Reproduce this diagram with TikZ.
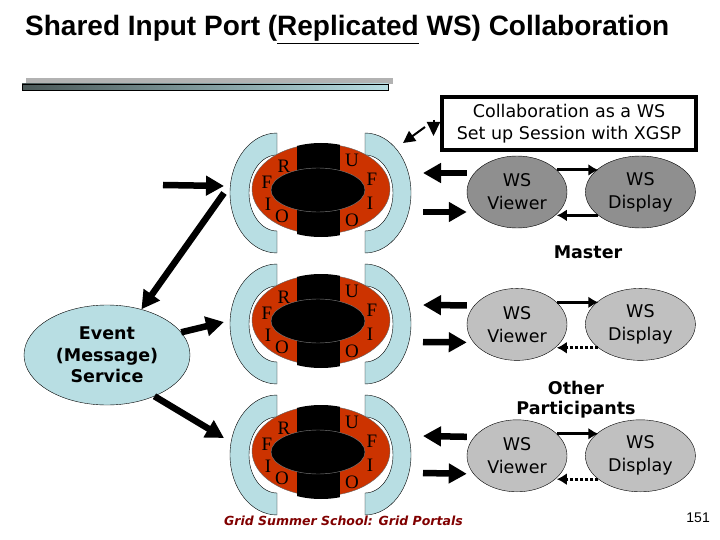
\documentclass[tikz,border=0pt]{standalone}
\usepackage{fontspec}
\setmainfont{DejaVu Sans}
\newfontfamily\titlefont{Liberation Sans}
\newfontfamily\ringfont{Liberation Serif}
\usepackage{tikz}
\usetikzlibrary{positioning, arrows.meta, calc, shapes.geometric}
\usepackage{xcolor}
\definecolor{portblue}{RGB}{184,222,227}
\definecolor{portred}{RGB}{204,51,0}
\definecolor{mastergray}{RGB}{143,143,143}
\definecolor{othergray}{RGB}{192,192,192}
\definecolor{footred}{RGB}{128,0,0}
\definecolor{barslate}{RGB}{74,88,88}

\begin{document}
\begin{tikzpicture}[x=1pt, y=-1pt, node distance=60pt,
	every node/.style={inner sep=0pt},
	wsnode/.style={ellipse, draw, thin, minimum height=72pt, align=center, font=\fontsize{17.5}{23}\selectfont},
	viewer/.style={wsnode, minimum width=100pt},
	display/.style={wsnode, minimum width=110pt},
	fat/.style={line width=6.5pt, -{Triangle[length=18pt,width=19pt]}},
	link/.style={line width=3pt, -{Latex[length=10pt,width=12pt]}},
	dots/.style={dash pattern=on 3pt off 2pt},
	letter/.style={font=\ringfont\fontsize{19}{19}\selectfont},
	label/.style={align=center, font=\bfseries\fontsize{17.5}{20}\selectfont},
	portring/.pic={
		\filldraw[fill=portblue, draw=black, thin] (-44,-60) arc[start angle=270, end angle=90, x radius=47, y radius=60]
			-- (-44,38) arc[start angle=90, end angle=270, x radius=28, y radius=38] -- cycle;
		\filldraw[fill=portblue, draw=black, thin] (44,-60) arc[start angle=270, end angle=450, x radius=46, y radius=60]
			-- (44,38) arc[start angle=90, end angle=-90, x radius=28, y radius=38] -- cycle;
		\filldraw[fill=portred, draw=black!60, thin] (0,-4) ellipse[x radius=69, y radius=45];
		\begin{scope}
			\clip (0,-3) ellipse[x radius=69, y radius=47];
			\fill (-24,-60) rectangle (19,60);
		\end{scope}
		\filldraw[fill=black, draw=gray] (-3,-3) ellipse[x radius=47, y radius=22];
		\node[letter] at (-37,-27) {R};
		\node[letter] at (-54,-11) {F};
		\node[letter] at (-53,11) {I};
		\node[letter] at (-39,23) {O};
		\node[letter] at (31,-33) {U};
		\node[letter] at (51,-14) {F};
		\node[letter] at (49,10) {I};
		\node[letter] at (31,27) {O};
		\coordinate (-w) at (-97,0);
		\coordinate (-e) at (102,0);
	}]
	\useasboundingbox (0,0) rectangle (720,540);

	% title and bar
	\node[anchor=base west, font=\titlefont\bfseries\fontsize{28}{30}\selectfont] (title) at (25,36)
		{Shared Input Port (\underline{Replicated} WS) Collaboration};
	\fill[black!30] (26,78) rectangle (393,84);
	\shadedraw[left color=barslate, right color=portblue, draw=black] (22,84) rectangle (388,90);

	% ports
	\pic (r1) at (321,193) {portring};
	\pic (r2) at (321,324) {portring};
	\pic (r3) at (321,455) {portring};

	\node[ellipse, draw, thin, fill=portblue, minimum width=166pt, minimum height=100pt, align=center,
		font=\bfseries\fontsize{17.5}{21.5}\selectfont] (event) at (107,355) {Event\\(Message)\\Service};

	\node[draw, line width=3.5pt, minimum width=254pt, minimum height=53pt, align=center,
		font=\fontsize{17.5}{22}\selectfont] (xgsp) at (569,123.5) {Collaboration as a WS\\Set up Session with XGSP};

	% viewers and displays
	\node[viewer, fill=mastergray] (v1) at (517,192) {WS\\Viewer};
	\node[display, fill=mastergray, right=18pt of v1] (d1) {WS\\Display};
	\node[viewer, fill=othergray, below=of v1] (v2) {WS\\Viewer};
	\node[display, fill=othergray, right=18pt of v2] (d2) {WS\\Display};
	\node[viewer, fill=othergray, below=59pt of v2] (v3) {WS\\Viewer};
	\node[display, fill=othergray, right=18pt of v3] (d3) {WS\\Display};

	\node[label] (master) at (588,252) {Master};
	\node[label] (others) at (576,400) {Other\\Participants};

	\node[anchor=base, font=\bfseries\itshape\fontsize{12.5}{15}\selectfont, text=footred] (footer) at (343.5,525)
		{Grid Summer School: Grid Portals};
	\node[anchor=base east, font=\titlefont\fontsize{14}{14}\selectfont] (page) at (710,522) {151};

	% connectors
	\coordinate (feed) at (163,185);
	\coordinate (sess) at (425,127);
	\coordinate (sesstip) at (403,143);
	\coordinate (setup) at (433.5,120);
	\coordinate (setuptip) at (433.5,136);

	\draw[fat] (feed) -- ($(r1-w)+(0,-7)$);
	\draw[fat] (r1-w) -- (event.53);
	\draw[fat] (event.17) -- ($(r2-w)+(0,-2)$);
	\draw[fat] (event.319) -- ($(r3-w)+(0,-17)$);

	\draw[line width=2pt, -{Triangle[length=12pt,width=12pt]}] (sess) -- (sesstip);
	\draw[line width=2pt, -{Triangle[length=14pt,width=13pt]}] (setup) -- (setuptip);

	\draw[fat] ($(v1.west)+(0,-19)$) -- ($(r1-e)+(0,-20)$);
	\draw[fat] ($(r1-e)+(0,19)$) -- ($(v1.west)+(0,20)$);
	\draw[fat] ($(v2.west)+(0,-19)$) -- ($(r2-e)+(0,-19)$);
	\draw[fat] ($(r2-e)+(0,18)$) -- ($(v2.west)+(0,18)$);
	\draw[fat] ($(v3.west)+(0,-19)$) -- ($(r3-e)+(0,-19)$);
	\draw[fat] ($(r3-e)+(0,18)$) -- ($(v3.west)+(0,18)$);

	\draw[link] (v1.29) -- (v1.29 -| d1.151);
	\draw[link] (d1.209) -- (d1.209 -| v1.331);
	\draw[link] (v2.29) -- (v2.29 -| d2.151);
	\draw[link, dots] (d2.209) -- (d2.209 -| v2.331);
	\draw[link] (v3.29) -- (v3.29 -| d3.151);
	\draw[link, dots] (d3.209) -- (d3.209 -| v3.331);
\end{tikzpicture}
\end{document}
